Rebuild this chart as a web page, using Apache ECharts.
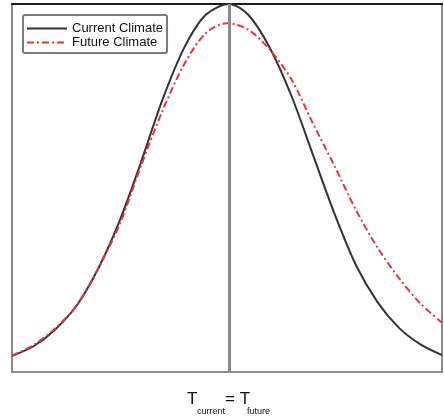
<!DOCTYPE html>
<html>
<head>
	<meta charset="UTF-8">
	<title></title>
	<script src="https://cdn.jsdelivr.net/npm/echarts@6/dist/echarts.min.js"></script>
	<style>
		html, body { margin: 0; padding: 0; background: #fff; }
	</style>
</head>
<body>

<div id="main" style="width: 444px;height:417px;"></div>

<script>
	// x = position across the frame (0..100), y = height of the curve (0..100)
	var currentX = [0, 5, 10, 15, 20, 25, 30, 35, 40, 45, 50.5, 55, 60, 65, 70, 75, 80, 85, 90, 95, 100];
	var currentY = [4.4, 7.0, 11.5, 18, 28, 41, 57, 74, 88, 97, 100, 97, 88, 75, 59, 43, 29, 19, 12, 7.5, 4.6];

	var futureX = [0, 5, 10, 15, 20, 25, 30, 35, 40, 45, 50, 55, 60, 65, 70, 75, 80, 85, 90, 95, 100];
	var futureY = [4.4, 7.3, 11.8, 18, 28, 40, 56, 71, 83.5, 92, 94.8, 93, 87.5, 79.5, 67.5, 56, 44, 33.8, 25.5, 18.6, 13.4];

	var meanLine = [50.5];
	var seriesNames = ['Current Climate', 'Future Climate'];

	function pairs(xs, ys){
		var out = [];
		for(var i=0;i<xs.length;i++){
			out.push([xs[i], ys[i]]);
		}
		return out;
	}

	var myChart = echarts.init(document.getElementById('main'));
	var option = {
		animation: false,
		backgroundColor: '#fff',
		grid: {
			left: 12,
			right: 2,
			top: 4,
			bottom: 45,
			show: true,
			borderColor: '#8c8c8c',
			borderWidth: 2
		},
		legend: {
			orient: 'vertical',
			left: 23,
			top: 15,
			padding: [7, 4, 4, 3],
			itemWidth: 40,
			itemHeight: 14,
			itemGap: 1,
			backgroundColor: '#fff',
			borderColor: '#7a7a7a',
			borderWidth: 2,
			borderRadius: 2,
			itemStyle: { opacity: 0 },
			textStyle: {
				fontFamily: 'Liberation Sans',
				fontSize: 13,
				color: '#111'
			},
			data: seriesNames
		},
		xAxis: [{
			type: 'value',
			min: 0,
			max: 100,
			axisLine: { show: false },
			axisTick: { show: false },
			axisLabel: { show: false },
			splitLine: { show: false }
		}, {
			type: 'value',
			position: 'top',
			min: 0,
			max: 100,
			axisLine: { show: true, lineStyle: { color: '#1a1a1a', width: 2 } },
			axisTick: { show: false },
			axisLabel: { show: false },
			splitLine: { show: false }
		}],
		yAxis: {
			type: 'value',
			min: 0,
			max: 100,
			axisLine: { show: false },
			axisTick: { show: false },
			axisLabel: { show: false },
			splitLine: { show: false }
		},
		series: [
			{
				name: seriesNames[0],
				type: 'line',
				smooth: 0.3,
				symbol: 'none',
				data: pairs(currentX, currentY),
				lineStyle: { color: '#333', width: 2 },
				itemStyle: { color: '#333' },
				z: 3,
				markLine: {
					silent: true,
					symbol: 'none',
					label: { show: false },
					lineStyle: { color: '#8a8a8a', width: 3, type: 'solid' },
					data: [{ xAxis: meanLine[0] }]
				}
			},
			{
				name: seriesNames[1],
				type: 'line',
				smooth: 0.3,
				symbol: 'none',
				data: pairs(futureX, futureY),
				lineStyle: { color: '#e8333b', width: 2, type: [7, 3, 2, 3] },
				itemStyle: { color: '#e8333b' },
				z: 4
			}
		],
		graphic: [
			{ type: 'text', left: 187, top: 391, style: { text: 'T', fontFamily: 'Liberation Sans', fontSize: 17, fill: '#111' } },
			{ type: 'text', left: 197, top: 407, style: { text: 'current', fontFamily: 'Liberation Sans', fontSize: 9, fill: '#111' } },
			{ type: 'text', left: 225, top: 391, style: { text: '= T', fontFamily: 'Liberation Sans', fontSize: 17, fill: '#111' } },
			{ type: 'text', left: 247, top: 407, style: { text: 'future', fontFamily: 'Liberation Sans', fontSize: 9, fill: '#111' } }
		]
	};

	myChart.setOption(option);
</script>
</body>
</html>
